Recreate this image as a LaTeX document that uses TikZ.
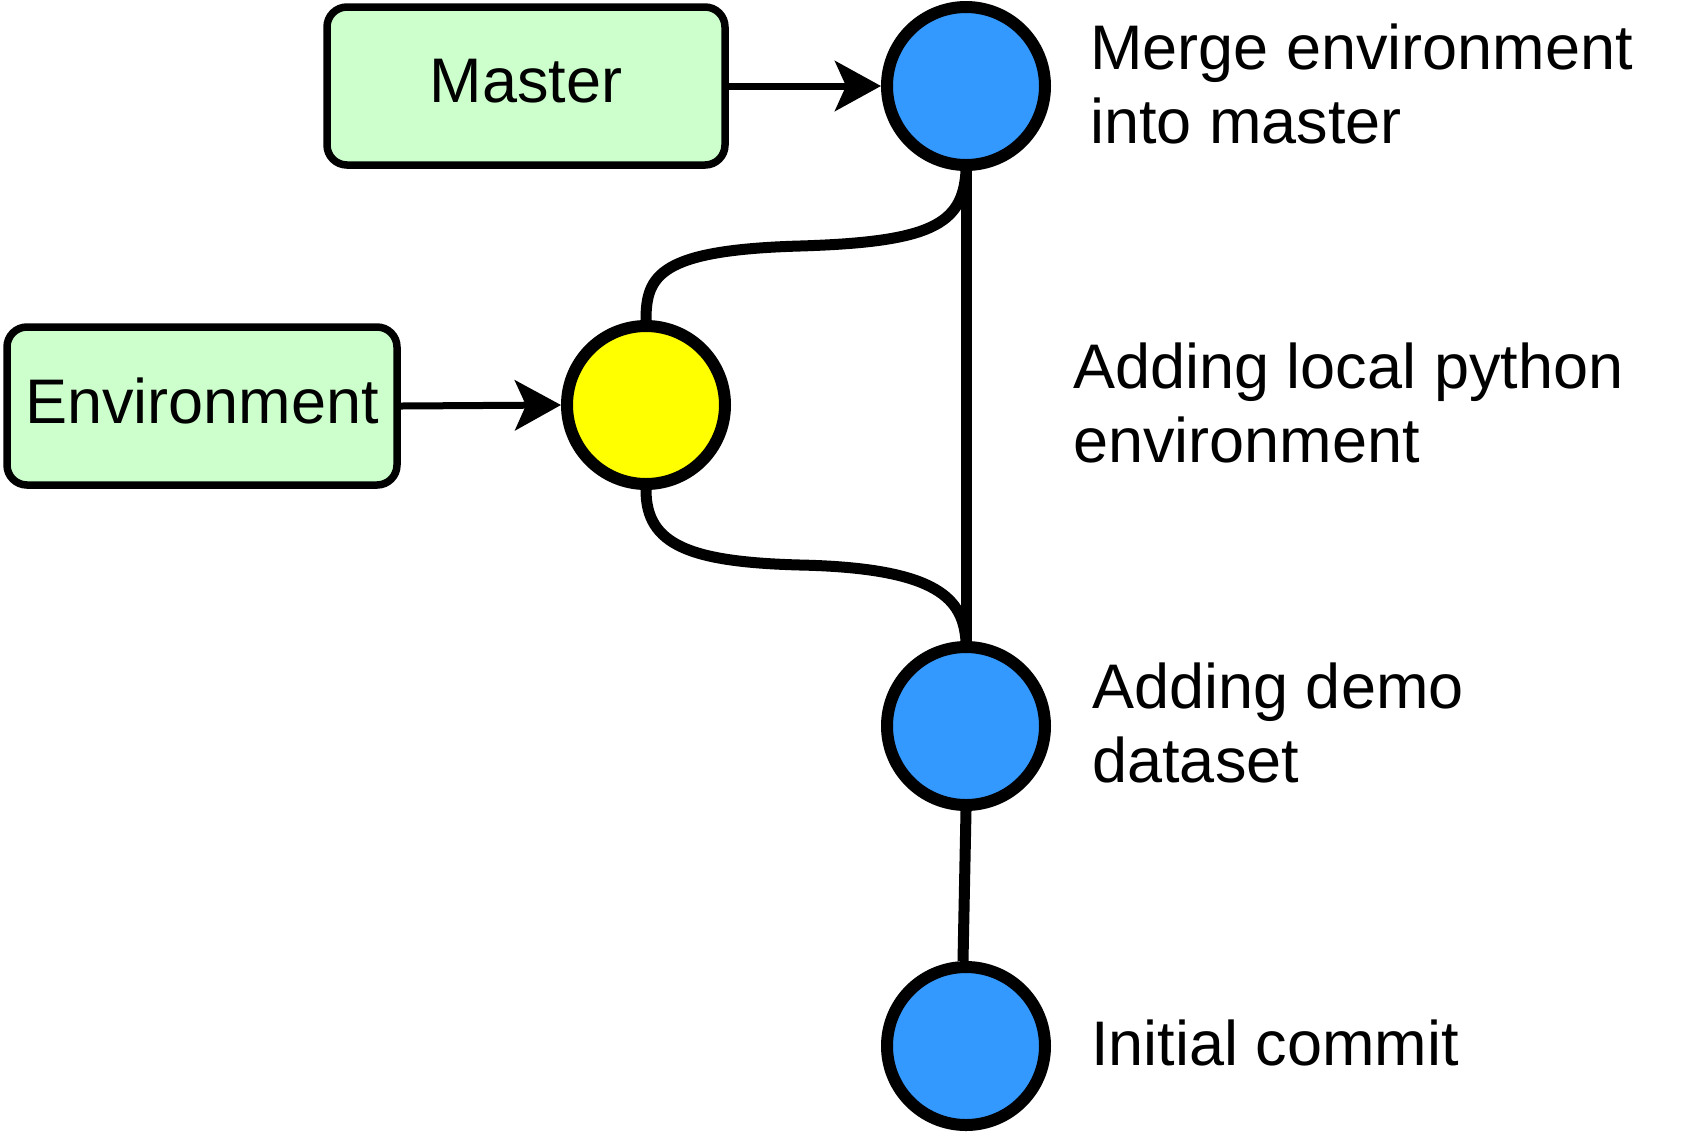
\documentclass[tikz,border=0pt]{standalone}
\usepackage{fontspec}
\setmainfont{Liberation Sans}
\usetikzlibrary{arrows.meta}
\definecolor{boxgreen}{HTML}{CCFFCC}
\definecolor{commitblue}{HTML}{3399FF}
\definecolor{branchyellow}{HTML}{FFFF00}
\tikzset{
  branchbox/.style={draw=black, fill=boxgreen, line width=3.75pt, rounded corners=10pt,
    minimum height=79pt, inner sep=0pt, text depth=5pt,
    font=\fontsize{31.5pt}{37pt}\selectfont},
  commit/.style={circle, draw=black, line width=6pt, minimum size=79pt, inner sep=0pt},
  desc/.style={anchor=base west, inner sep=0pt, align=left,
    font=\fontsize{31.5pt}{37pt}\selectfont},
  pointer/.style={line width=3.5pt, -{Stealth[length=23pt,width=25pt,inset=5.5pt]}, shorten >=0pt},
  history/.style={line width=5.5pt}
}
\begin{document}
\begin{tikzpicture}[x=0.5pt, y=-0.5pt]
\useasboundingbox (0,0) rectangle (1688,1132);
% commits
\node[commit, fill=commitblue] (merge) at (966,86) {};
\node[commit, fill=branchyellow] (envc) at (646,405) {};
\node[commit, fill=commitblue] (demo) at (966,726) {};
\node[commit, fill=commitblue] (init) at (966,1046) {};
% branch labels
\node[branchbox, minimum width=199pt] (master) at (526,86) {Master};
\node[branchbox, minimum width=195pt] (envb) at (202,406) {Environment};
% pointers
\draw[pointer] (master.east) -- (merge.west);
\draw[pointer] (envb.east) -- (envc.west);
% history
\draw[history] (merge.south) -- (demo.north);
\draw[history] (demo.south) -- ([xshift=-1.5pt]init.north);
\draw[history] (merge.south) .. controls (963,225) and (930,242) .. (800,246)
  .. controls (660,250) and (646,275) .. (envc.north);
\draw[history] (envc.south) .. controls (646,545) and (690,562) .. (800,565)
  .. controls (940,568) and (963,600) .. (demo.north);
% descriptions (base anchor = baseline of the last line)
\node[desc] (dmerge) at (1090,143) {Merge environment\\into master};
\node[desc] (dlocal) at (1073,462) {Adding local python\\environment};
\node[desc] (ddemo) at (1092,782) {Adding demo\\dataset};
\node[desc] (dinit) at (1091,1065) {Initial commit};
\end{tikzpicture}
\end{document}
